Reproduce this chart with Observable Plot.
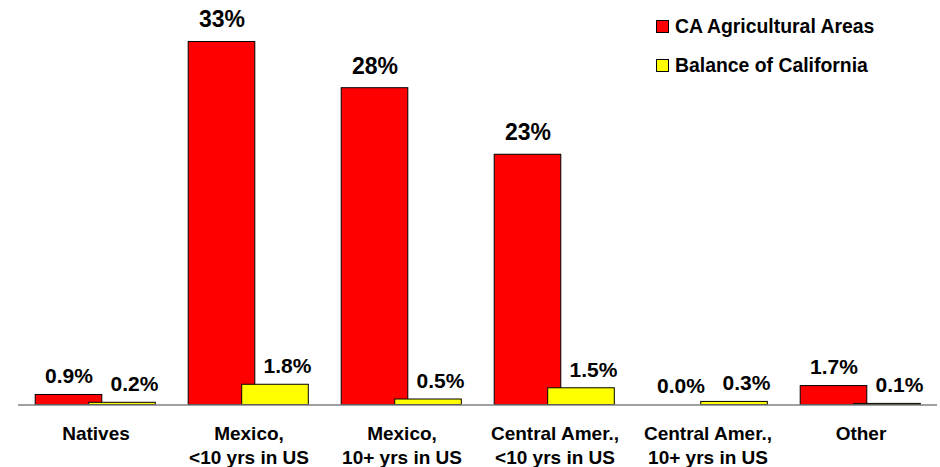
<!DOCTYPE html>
<html>
<head>
<meta charset="utf-8">
<script src="https://cdn.jsdelivr.net/npm/d3@7"></script>
<script src="https://cdn.jsdelivr.net/npm/@observablehq/plot@0.6"></script>
<style>
  html, body { margin: 0; padding: 0; background: #fff; }
  #wrap { position: relative; width: 940px; height: 467px; font-family: "Liberation Sans", Arial, sans-serif; }
  .leg { position: absolute; left: 656px; display: flex; align-items: center; font-weight: bold; font-size: 19.4px; color: #000; white-space: nowrap; }
  .sw { width: 11px; height: 11px; border: 1px solid #000; margin-right: 6px; }
</style>
</head>
<body>
<div id="wrap"></div>
<script>
const categories = [
  "Natives",
  "Mexico,\n<10 yrs in US",
  "Mexico,\n10+ yrs in US",
  "Central Amer.,\n<10 yrs in US",
  "Central Amer.,\n10+ yrs in US",
  "Other"
];
const seriesNames = ["CA Agricultural Areas", "Balance of California"];
const agValues = [0.91, 33.0, 28.8, 22.75, 0.0, 1.72];
const balValues = [0.2, 1.84, 0.5, 1.52, 0.28, 0.1];
const agLabels = ["0.9%", "33%", "28%", "23%", "0.0%", "1.7%"];
const balLabels = ["0.2%", "1.8%", "0.5%", "1.5%", "0.3%", "0.1%"];
const colors = ["#FF0000", "#FFFF00"];

const ag = categories.map((c, i) => ({cat: c, v: agValues[i], label: agLabels[i]}));
const bal = categories.map((c, i) => ({cat: c, v: balValues[i], label: balLabels[i]}));

const big = d => d.v > 10;
const small = d => d.v <= 10;

const chart = Plot.plot({
  width: 940,
  height: 467,
  marginLeft: 18,
  marginRight: 3,
  marginTop: 19.5,
  marginBottom: 62.5,
  style: {fontFamily: "'Liberation Sans', Arial, sans-serif", background: "#fff"},
  x: {domain: categories, padding: 0, axis: null},
  y: {domain: [0, 35], axis: null},
  marks: [
    Plot.barY(ag, {x: "cat", y: "v", fill: colors[0], stroke: "#000", strokeWidth: 1, insetLeft: 16.2, insetRight: 70.2}),
    Plot.barY(bal, {x: "cat", y: "v", fill: colors[1], stroke: "#000", strokeWidth: 1, insetLeft: 69.7, insetRight: 16.7}),
    Plot.ruleY([0], {stroke: "#808080", strokeWidth: 1.5}),
    Plot.text(ag.filter(big), {x: "cat", y: "v", text: "label", dx: -27, dy: -14.7, lineAnchor: "bottom", fontSize: 23, fontWeight: "bold", fill: "#000"}),
    Plot.text(ag.filter(small), {x: "cat", y: "v", text: "label", dx: -27, dy: -11.6, lineAnchor: "bottom", fontSize: 21, fontWeight: "bold", fill: "#000"}),
    Plot.text(bal, {x: "cat", y: "v", text: "label", dx: 38.5, dy: -11.6, lineAnchor: "bottom", fontSize: 21, fontWeight: "bold", fill: "#000"}),
    Plot.axisX({domain: categories, tickSize: 0, tickPadding: 19, fontSize: 19, fontWeight: "bold", lineHeight: 1.22, lineAnchor: "top", fill: "#000", label: null})
  ]
});
const wrap = document.getElementById("wrap");
wrap.appendChild(chart);

const legTops = [26, 65];
seriesNames.forEach((name, i) => {
  const row = document.createElement("div");
  row.className = "leg";
  row.style.top = (legTops[i] - 11) + "px";
  row.style.height = "22px";
  const sw = document.createElement("div");
  sw.className = "sw";
  sw.style.background = colors[i];
  const t = document.createElement("span");
  t.textContent = name;
  row.appendChild(sw);
  row.appendChild(t);
  wrap.appendChild(row);
});
</script>
</body>
</html>
